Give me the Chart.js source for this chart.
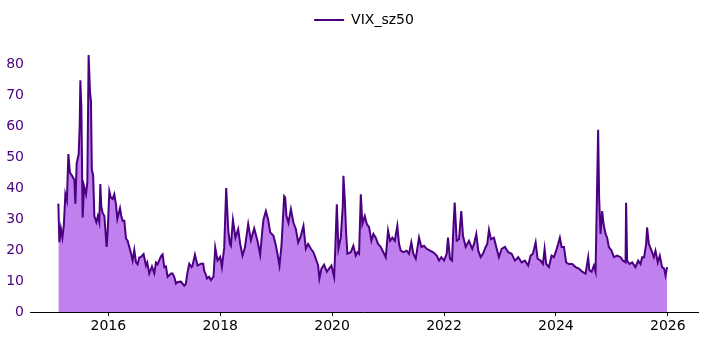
<!DOCTYPE html>
<html>
<head>
<meta charset="utf-8">
<script src="https://cdn.jsdelivr.net/npm/chart.js@4"></script>
<style>
  body { margin: 0; background: #fff; }
</style>
</head>
<body>
<canvas id="vixChart" width="709" height="340"></canvas>
<script>
// dates as decimal years
const years = [
  2015.107, 2015.125, 2015.152, 2015.179, 2015.205, 2015.232, 2015.259, 2015.286, 2015.313, 2015.352,
  2015.393, 2015.411, 2015.434, 2015.470, 2015.488, 2015.500, 2015.518, 2015.541, 2015.566, 2015.602,
  2015.625, 2015.648, 2015.672, 2015.690, 2015.705, 2015.729, 2015.750, 2015.786, 2015.813, 2015.839,
  2015.857, 2015.875, 2015.898, 2015.929, 2015.970, 2015.991, 2016.018, 2016.045, 2016.077, 2016.107,
  2016.138, 2016.161, 2016.209, 2016.232, 2016.255, 2016.286, 2016.316, 2016.345, 2016.375, 2016.405,
  2016.434, 2016.464, 2016.495, 2016.523, 2016.554, 2016.584, 2016.630, 2016.673, 2016.696, 2016.732,
  2016.780, 2016.821, 2016.852, 2016.880, 2016.941, 2016.970, 2017.000, 2017.030, 2017.059, 2017.120,
  2017.148, 2017.179, 2017.209, 2017.238, 2017.298, 2017.357, 2017.384, 2017.416, 2017.446, 2017.488,
  2017.505, 2017.548, 2017.595, 2017.655, 2017.696, 2017.714, 2017.745, 2017.763, 2017.804, 2017.834,
  2017.880, 2017.911, 2017.952, 2018.000, 2018.030, 2018.071, 2018.107, 2018.143, 2018.173, 2018.191,
  2018.227, 2018.273, 2018.321, 2018.357, 2018.398, 2018.441, 2018.500, 2018.548, 2018.607, 2018.666,
  2018.714, 2018.755, 2018.773, 2018.816, 2018.857, 2018.893, 2018.952, 2018.995, 2019.023, 2019.059,
  2019.095, 2019.143, 2019.161, 2019.184, 2019.220, 2019.263, 2019.309, 2019.352, 2019.393, 2019.441,
  2019.488, 2019.530, 2019.571, 2019.620, 2019.666, 2019.709, 2019.750, 2019.773, 2019.809, 2019.857,
  2019.905, 2019.946, 2019.988, 2020.036, 2020.059, 2020.084, 2020.113, 2020.155, 2020.191, 2020.202,
  2020.227, 2020.250, 2020.273, 2020.334, 2020.380, 2020.423, 2020.452, 2020.482, 2020.513, 2020.541,
  2020.584, 2020.620, 2020.661, 2020.702, 2020.738, 2020.780, 2020.821, 2020.870, 2020.916, 2020.959,
  2021.000, 2021.036, 2021.077, 2021.120, 2021.166, 2021.196, 2021.227, 2021.273, 2021.334, 2021.375,
  2021.416, 2021.452, 2021.495, 2021.554, 2021.595, 2021.643, 2021.691, 2021.750, 2021.809, 2021.870,
  2021.911, 2021.952, 2022.000, 2022.048, 2022.071, 2022.107, 2022.143, 2022.166, 2022.191, 2022.227,
  2022.268, 2022.309, 2022.339, 2022.388, 2022.446, 2022.505, 2022.536, 2022.577, 2022.613, 2022.655,
  2022.696, 2022.745, 2022.773, 2022.804, 2022.839, 2022.893, 2022.934, 2022.982, 2023.030, 2023.089,
  2023.148, 2023.209, 2023.268, 2023.327, 2023.388, 2023.446, 2023.505, 2023.548, 2023.589, 2023.638,
  2023.673, 2023.727, 2023.768, 2023.798, 2023.827, 2023.875, 2023.923, 2023.964, 2024.005, 2024.041,
  2024.071, 2024.102, 2024.143, 2024.184, 2024.232, 2024.291, 2024.352, 2024.411, 2024.470, 2024.530,
  2024.577, 2024.598, 2024.638, 2024.679, 2024.709, 2024.732, 2024.755, 2024.773, 2024.798, 2024.827,
  2024.852, 2024.888, 2024.916, 2024.946, 2024.995, 2025.036, 2025.095, 2025.155, 2025.196, 2025.245,
  2025.255, 2025.273, 2025.316, 2025.363, 2025.423, 2025.470, 2025.513, 2025.541, 2025.577, 2025.613,
  2025.630, 2025.661, 2025.709, 2025.750, 2025.780, 2025.821, 2025.857, 2025.898, 2025.934, 2025.959,
  2025.988,
];
const vixValues = [
  35, 22.5, 27, 24, 28, 38, 36, 51, 45, 44,
  42.6, 35, 48, 51, 60, 74.8, 66, 30.5, 40.6, 38,
  42, 83, 71, 68, 46, 44, 31, 29, 31, 29,
  41.3, 34, 32, 31, 21, 27, 39, 37, 36.5, 38,
  34.6, 30, 33.5, 31, 29.5, 29.5, 23.7, 23, 21, 19,
  16.6, 20, 16, 15.4, 17.6, 17.8, 18.7, 15, 16, 12.4,
  14.7, 12.5, 16, 15.4, 18, 18.6, 14.5, 14.7, 11.3, 12.4,
  12.4, 11.3, 9.2, 9.7, 9.8, 8.5, 9, 12.9, 15.6, 14.5,
  15, 18.5, 15, 15.6, 15.6, 13.3, 12, 10.8, 11.4, 10.3,
  11.4, 20.8, 16.6, 17.8, 14.5, 20.7, 40, 26.5, 22, 21.4,
  29.7, 24, 26.8, 22, 18.2, 20.8, 28.4, 23.2, 27, 23,
  18.5, 26.8, 29.8, 32.6, 29.8, 25.7, 24.6, 21.4, 18.8, 15,
  21.4, 37.4, 37, 31, 28.8, 33.2, 28.8, 26.8, 22.5, 24.6,
  27.8, 20.4, 22, 20.4, 19.3, 17.2, 15, 10.8, 14, 15.3,
  13, 14, 15, 11.3, 21.4, 34.8, 20.4, 24, 34.2, 44,
  36.4, 25.7, 18.8, 19.3, 21.4, 18.2, 19.3, 18.8, 38, 28.4,
  31, 28.4, 27.4, 23, 25.2, 24, 22, 21, 19.3, 17.7,
  26.3, 23, 24, 23, 27.8, 22, 19.8, 19.3, 19.8, 18.8,
  22.5, 18.8, 17.2, 24, 21, 21.4, 20.4, 19.8, 19.3, 18.2,
  16.6, 17.7, 16.6, 18.8, 24, 17.2, 16.6, 26.3, 35.3, 23,
  23.5, 32.6, 24.6, 21, 23, 20.4, 22, 25.2, 19.8, 17.7,
  18.8, 21, 22, 26.5, 23.5, 24, 21, 17.7, 20.4, 21,
  19.3, 18.8, 16.6, 17.7, 16, 16.6, 15, 18.2, 18.8, 22.5,
  17.2, 16.6, 15.5, 20.4, 15.5, 14.5, 18.2, 17.7, 19.8, 22,
  24, 21, 21, 16, 15.5, 15.5, 14.5, 14, 13, 12.4,
  17.7, 13.5, 13, 15, 13, 35.8, 58.8, 36.9, 25.2, 32.6,
  28.4, 25.2, 24, 21, 19.8, 17.7, 18.2, 17.7, 16.6, 16,
  35.3, 16.6, 15.5, 16, 14.5, 16.6, 15.5, 17.7, 17.7, 22,
  27.3, 22, 19.8, 17.7, 19.8, 16, 18.2, 14.5, 14, 11.8,
  14.5,
];
const seriesName = "VIX_sz50";
const yearTicks = [2016, 2018, 2020, 2022, 2024, 2026];
const valueTicks = [0, 10, 20, 30, 40, 50, 60, 70, 80];

// leave a little room under the legend, like the original
const legendGap = {
  id: "legendGap",
  beforeLayout(chart) {
    const lg = chart.legend;
    if (lg && !lg._gapDone) {
      const fit = lg.fit;
      lg.fit = function () { fit.call(this); this.height += 4; };
      lg._gapDone = true;
    }
  },
};

const ctx = document.getElementById("vixChart").getContext("2d");
const vixChart = new Chart(ctx, {
  type: "line",
  data: {
    datasets: [
      {
        label: seriesName,
        data: years.map((t, i) => ({ x: t, y: vixValues[i] })),
        borderColor: "#4b0082",
        backgroundColor: "#c080ee",
        borderWidth: 2,
        pointRadius: 0,
        tension: 0,
        fill: "origin",
      },
    ],
  },
  options: {
    responsive: false,
    animation: false,
    devicePixelRatio: 1,
    layout: { padding: { top: 1, right: 11, left: 0, bottom: 0 } },
    plugins: {
      tooltip: { enabled: false },
      legend: {
        fullSize: false,
        labels: {
          usePointStyle: true,
          pointStyle: "line",
          pointStyleWidth: 30,
          padding: 12,
          color: "#000",
          font: { family: "DejaVu Sans", size: 14 },
        },
      },
    },
    scales: {
      x: {
        type: "linear",
        min: 2014.6,
        max: 2026.54,
        afterBuildTicks: (s) => { s.ticks = yearTicks.map((v) => ({ value: v })); },
        afterFit: (s) => { s.height = 28; },
        grid: { drawOnChartArea: false, drawTicks: true, tickLength: 4, color: "#000" },
        border: { color: "#000", width: 1 },
        ticks: {
          padding: 2,
          color: "#000",
          maxRotation: 0,
          font: { family: "DejaVu Sans", size: 14 },
          callback: (v) => String(v),
        },
      },
      y: {
        min: 0,
        max: 87.5,
        afterBuildTicks: (s) => { s.ticks = valueTicks.map((v) => ({ value: v })); },
        afterFit: (s) => { s.width = 30; },
        grid: { display: false, drawTicks: false },
        border: { display: false },
        ticks: {
          padding: 6,
          color: "#4b0082",
          font: { family: "DejaVu Sans", size: 14 },
        },
      },
    },
  },
  plugins: [legendGap],
});
</script>
</body>
</html>
